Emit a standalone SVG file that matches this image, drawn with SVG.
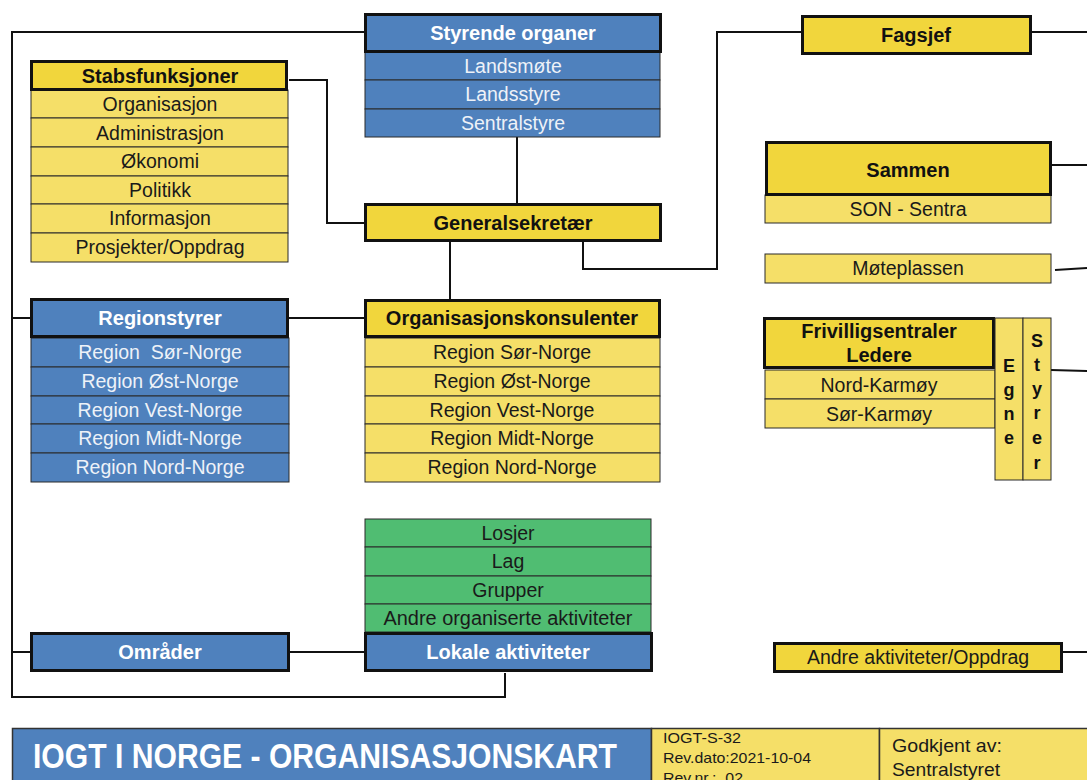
<svg xmlns="http://www.w3.org/2000/svg" width="1087" height="780" viewBox="0 0 1087 780">
<style>
text{font-family:"Liberation Sans",Arial,sans-serif;text-anchor:middle}
.hb{fill:#4F81BD;stroke:#111;stroke-width:3}
.hy{fill:#F1D63C;stroke:#111;stroke-width:3}
.rb{fill:#4F81BD;stroke:#2a2a2a;stroke-width:1}
.ry{fill:#F5DF68;stroke:#2a2a2a;stroke-width:1}
.rg{fill:#50BD72;stroke:#2a2a2a;stroke-width:1}
.tw{fill:#fff;font-weight:bold;font-size:20px}
.tk{fill:#111;font-weight:bold;font-size:20px}
.rw{fill:#EEF2F8;font-size:19.5px}
.rk{fill:#1a1a1a;font-size:19.5px}
.ln{fill:none;stroke:#111;stroke-width:2}
</style>
<g id="connectors">
<polyline class="ln" points="364,32 12,32 12,697 505,697 505,673"/>
<line class="ln" x1="12" y1="318" x2="31" y2="318"/>
<line class="ln" x1="12" y1="652" x2="31" y2="652"/>
<polyline class="ln" points="289,80 327,80 327,223 364,223"/>
<line class="ln" x1="517" y1="137" x2="517" y2="203"/>
<line class="ln" x1="450" y1="242" x2="450" y2="299"/>
<line class="ln" x1="289" y1="318" x2="364" y2="318"/>
<polyline class="ln" points="583,242 583,269 717,269 717,32 802,32"/>
<line class="ln" x1="289" y1="652" x2="364" y2="652"/>
<line class="ln" x1="1032" y1="32" x2="1087" y2="32"/>
<line class="ln" x1="1052" y1="165" x2="1087" y2="165"/>
<line class="ln" x1="1055" y1="270" x2="1087" y2="268"/>
<line class="ln" x1="1051" y1="370" x2="1087" y2="371"/>
<line class="ln" x1="1062" y1="652" x2="1087" y2="652"/>
</g>
<g id="styrende-organer">
<rect class="rb" x="365" y="52" width="295" height="28"/>
<rect class="rb" x="365" y="80" width="295" height="29"/>
<rect class="rb" x="365" y="109" width="295" height="28"/>
<rect class="hb" x="365.5" y="14.5" width="295" height="37"/>
<text class="tw" x="513" y="40">Styrende organer</text>
<text class="rw" x="513" y="73">Landsmøte</text>
<text class="rw" x="513" y="101">Landsstyre</text>
<text class="rw" x="513" y="130">Sentralstyre</text>
</g>
<g id="stabsfunksjoner">
<rect class="ry" x="31" y="90" width="257" height="28"/>
<rect class="ry" x="31" y="118" width="257" height="29"/>
<rect class="ry" x="31" y="147" width="257" height="29"/>
<rect class="ry" x="31" y="176" width="257" height="28"/>
<rect class="ry" x="31" y="204" width="257" height="29"/>
<rect class="ry" x="31" y="233" width="257" height="29"/>
<rect class="hy" x="31.5" y="61.5" width="255" height="28"/>
<text class="tk" x="160" y="83">Stabsfunksjoner</text>
<text class="rk" x="160" y="111">Organisasjon</text>
<text class="rk" x="160" y="140">Administrasjon</text>
<text class="rk" x="160" y="168">Økonomi</text>
<text class="rk" x="160" y="197">Politikk</text>
<text class="rk" x="160" y="225">Informasjon</text>
<text class="rk" x="160" y="254">Prosjekter/Oppdrag</text>
</g>
<g id="generalsekretaer">
<rect class="hy" x="365.5" y="204.5" width="295" height="36"/>
<text class="tk" x="513" y="230">Generalsekretær</text>
</g>
<g id="regionstyrer">
<rect class="rb" x="31" y="338" width="258" height="29"/>
<rect class="rb" x="31" y="367" width="258" height="29"/>
<rect class="rb" x="31" y="396" width="258" height="28"/>
<rect class="rb" x="31" y="424" width="258" height="29"/>
<rect class="rb" x="31" y="453" width="258" height="29"/>
<rect class="hb" x="31.5" y="299.5" width="256" height="37"/>
<text class="tw" x="160" y="325">Regionstyrer</text>
<text class="rw" x="160" y="359" xml:space="preserve">Region  Sør-Norge</text>
<text class="rw" x="160" y="388">Region Øst-Norge</text>
<text class="rw" x="160" y="417">Region Vest-Norge</text>
<text class="rw" x="160" y="445">Region Midt-Norge</text>
<text class="rw" x="160" y="474">Region Nord-Norge</text>
</g>
<g id="organisasjonskonsulenter">
<rect class="ry" x="365" y="338" width="295" height="29"/>
<rect class="ry" x="365" y="367" width="295" height="29"/>
<rect class="ry" x="365" y="396" width="295" height="28"/>
<rect class="ry" x="365" y="424" width="295" height="29"/>
<rect class="ry" x="365" y="453" width="295" height="29"/>
<rect class="hy" x="365.5" y="300.5" width="294" height="36"/>
<text class="tk" x="512" y="325">Organisasjonskonsulenter</text>
<text class="rk" x="512" y="359">Region Sør-Norge</text>
<text class="rk" x="512" y="388">Region Øst-Norge</text>
<text class="rk" x="512" y="417">Region Vest-Norge</text>
<text class="rk" x="512" y="445">Region Midt-Norge</text>
<text class="rk" x="512" y="474">Region Nord-Norge</text>
</g>
<g id="lokale-aktiviteter">
<rect class="rg" x="365" y="519" width="286" height="28"/>
<rect class="rg" x="365" y="547" width="286" height="29"/>
<rect class="rg" x="365" y="576" width="286" height="28"/>
<rect class="rg" x="365" y="604" width="286" height="28"/>
<text class="rk" x="508" y="540">Losjer</text>
<text class="rk" x="508" y="568">Lag</text>
<text class="rk" x="508" y="597">Grupper</text>
<text class="rk" x="508" y="625" textLength="249" lengthAdjust="spacingAndGlyphs">Andre organiserte aktiviteter</text>
<rect class="hb" x="365.5" y="633.5" width="286" height="37"/>
<text class="tw" x="508" y="659">Lokale aktiviteter</text>
</g>
<g id="omrader">
<rect class="hb" x="31.5" y="633.5" width="257" height="37"/>
<text class="tw" x="160" y="659">Områder</text>
</g>
<g id="fagsjef">
<rect class="hy" x="802.5" y="16.5" width="228" height="37"/>
<text class="tk" x="916" y="42">Fagsjef</text>
</g>
<g id="sammen">
<rect class="ry" x="765" y="195" width="286" height="28"/>
<rect class="hy" x="766.5" y="142.5" width="284" height="52"/>
<text class="tk" x="908" y="177">Sammen</text>
<text class="rk" x="908" y="216">SON - Sentra</text>
</g>
<g id="moteplassen">
<rect class="ry" x="765" y="254" width="286" height="29"/>
<text class="rk" x="908" y="275">Møteplassen</text>
</g>
<g id="frivilligsentraler">
<rect class="ry" x="765" y="370" width="230" height="29"/>
<rect class="ry" x="765" y="399" width="230" height="29"/>
<rect class="hy" x="764.5" y="318.5" width="229" height="49"/>
<text class="tk" x="879" y="338">Frivilligsentraler</text>
<text class="tk" x="879" y="362">Ledere</text>
<text class="rk" x="879" y="392">Nord-Karmøy</text>
<text class="rk" x="879" y="421">Sør-Karmøy</text>
<rect class="ry" x="995" y="318" width="28" height="162"/>
<rect class="ry" x="1023" y="318" width="28" height="162"/>
<g class="tk" style="font-size:18px">
<text x="1009" y="372">E</text>
<text x="1009" y="396">g</text>
<text x="1009" y="420">n</text>
<text x="1009" y="444">e</text>
<text x="1037" y="347">S</text>
<text x="1037" y="371">t</text>
<text x="1037" y="395">y</text>
<text x="1037" y="419">r</text>
<text x="1037" y="444">e</text>
<text x="1037" y="469">r</text>
</g>
</g>
<g id="andre-aktiviteter">
<rect class="hy" x="774.5" y="643.5" width="287" height="28"/>
<text class="rk" x="918" y="664">Andre aktiviteter/Oppdrag</text>
</g>
<g id="footer">
<rect x="12.5" y="728.5" width="639" height="60" fill="#4F81BD" stroke="#333" stroke-width="1.5"/>
<rect x="651.5" y="728.5" width="228" height="60" fill="#F5DF68" stroke="#333" stroke-width="1.5"/>
<rect x="879.5" y="728.5" width="220" height="60" fill="#F5DF68" stroke="#333" stroke-width="1.5"/>
<text x="33" y="768" style="text-anchor:start;font-weight:bold;font-size:35px;fill:#fff" textLength="584" lengthAdjust="spacingAndGlyphs">IOGT I NORGE - ORGANISASJONSKART</text>
<g style="font-size:15px;fill:#1a1a1a">
<text x="663" y="743" style="text-anchor:start" textLength="78" lengthAdjust="spacingAndGlyphs">IOGT-S-32</text>
<text x="663" y="763" style="text-anchor:start" textLength="148" lengthAdjust="spacingAndGlyphs">Rev.dato:2021-10-04</text>
<text x="663" y="783" style="text-anchor:start" xml:space="preserve" textLength="80" lengthAdjust="spacingAndGlyphs">Rev.nr.:  02</text>
</g>
<g style="font-size:19px;fill:#1a1a1a">
<text x="892" y="752" style="text-anchor:start" textLength="110" lengthAdjust="spacingAndGlyphs">Godkjent av:</text>
<text x="892" y="776" style="text-anchor:start" textLength="108" lengthAdjust="spacingAndGlyphs">Sentralstyret</text>
</g>
</g>
</svg>
